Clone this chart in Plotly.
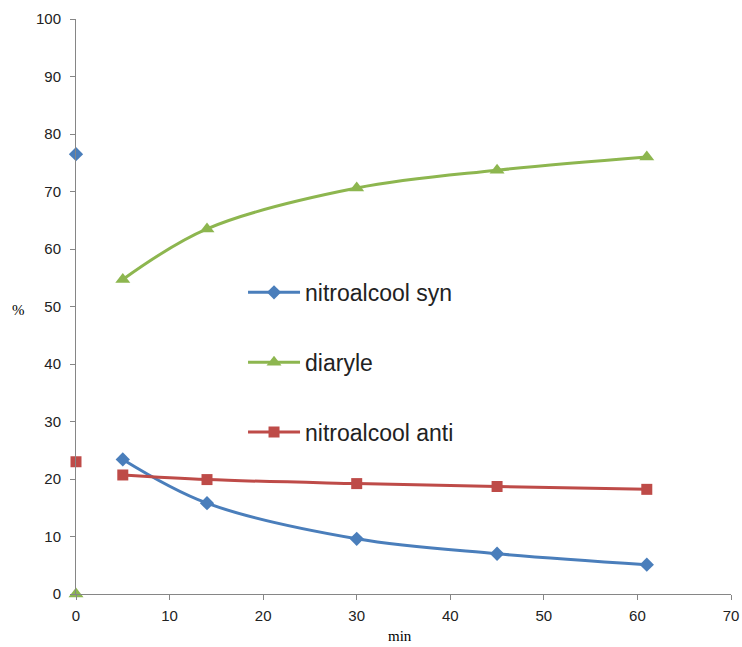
import plotly.graph_objects as go

# Reaction time (min) and composition (%)
t_start = [0]
t = [5, 14, 30, 45, 61]

syn_start = [76.5]
syn = [23.4, 15.8, 9.6, 7.0, 5.1]

diaryle_start = [0]
diaryle = [54.7, 63.5, 70.6, 73.7, 76.0]

anti_start = [23.0]
anti = [20.7, 19.9, 19.2, 18.7, 18.2]

BLUE = "#4A7EBB"
GREEN = "#8DB64F"
RED = "#BE4B48"

fig = go.Figure()

series = [
    ("nitroalcool syn", syn_start, syn, BLUE, "diamond", 11),
    ("diaryle", diaryle_start, diaryle, GREEN, "triangle-up", 13),
    ("nitroalcool anti", anti_start, anti, RED, "square", 11),
]

for i, (name, y0, ys, color, sym, size) in enumerate(series):
    fig.add_trace(go.Scatter(
        x=t, y=ys, name=name, mode="lines+markers",
        line=dict(color=color, width=3, shape="spline", smoothing=1),
        marker=dict(color=color, symbol=sym, size=size),
        legendgroup=f"g{i}", cliponaxis=False,
    ))
    fig.add_trace(go.Scatter(
        x=t_start, y=y0, mode="markers", showlegend=False,
        marker=dict(color=color, symbol=sym, size=size),
        legendgroup=f"g{i}", cliponaxis=False,
    ))

axis_common = dict(
    showgrid=False, zeroline=False, showline=True, linecolor="#868686",
    linewidth=1, ticks="outside", ticklen=5, tickcolor="#868686",
    tickfont=dict(family="Liberation Sans, Arial", size=15, color="#222"),
    automargin=False,
)

fig.update_xaxes(range=[0, 70], dtick=10, ticklabelstandoff=3, **axis_common)
fig.update_yaxes(range=[0, 100], dtick=10, ticklabelstandoff=6, **axis_common)

title_font = dict(family="Liberation Serif, Times New Roman", size=15, color="#000")
fig.add_annotation(text="%", xref="paper", yref="paper", x=-0.088, y=0.494,
                   showarrow=False, font=title_font, xanchor="center", yanchor="middle")
fig.add_annotation(text="min", xref="paper", yref="paper", x=0.495, y=-0.073,
                   showarrow=False, font=title_font, xanchor="center", yanchor="middle")

fig.update_layout(
    width=742, height=647,
    margin=dict(l=76, r=11, t=19, b=53),
    plot_bgcolor="white", paper_bgcolor="white",
    legend=dict(
        x=0.255, y=0.562, xanchor="left", yanchor="top",
        font=dict(family="Liberation Sans, Arial", size=23, color="#222"),
        bgcolor="rgba(0,0,0,0)", traceorder="grouped", tracegroupgap=37,
        itemwidth=52,
    ),
)

fig.write_html("out.html")
